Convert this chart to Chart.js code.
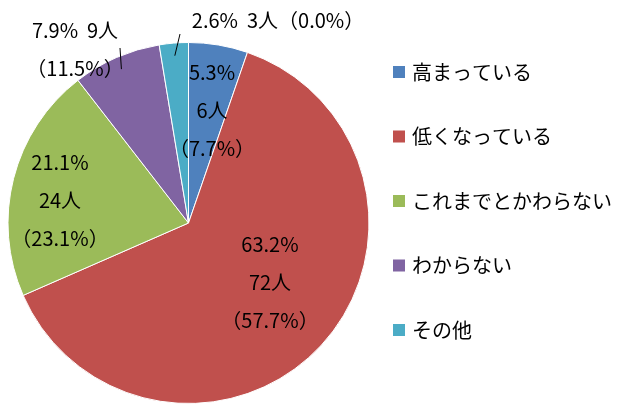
<!DOCTYPE html>
<html lang="ja">
<head>
<meta charset="UTF-8" />
<script src="https://cdn.jsdelivr.net/npm/chart.js"></script>
<style>
  body { margin: 0; background: #fff; }
  #wrap { width: 640px; height: 404px; }
</style>
</head>
<body>
<div id="wrap"><canvas id="pie"></canvas></div>
<script>
const categories = ['高まっている', '低くなっている', 'これまでとかわらない', 'わからない', 'その他'];
const percents = [5.3, 63.2, 21.1, 7.9, 2.6];
const counts = ['6人', '72人', '24人', '9人', '3人'];
const shares = ['（7.7%）', '（57.7%）', '（23.1%）', '（11.5%）', '（0.0%）'];
const colors = ['#4F81BD', '#C0504D', '#9BBB59', '#8064A2', '#4BACC6'];

const FONT = '20px "Noto Sans CJK JP", sans-serif';

// label placement per slice: lines of text, anchor point, whether a leader line is drawn
const labelLayout = [
  { lines: i => [percents[i] + '%', counts[i], shares[i]], x: 212, y: 72, align: 'center' },
  { lines: i => [percents[i] + '%', counts[i], shares[i]], x: 270, y: 244, align: 'center' },
  { lines: i => [percents[i] + '%', counts[i], shares[i]], x: 60, y: 162, align: 'center' },
  { lines: i => [percents[i] + '%  ' + counts[i], shares[i]], x: 75, y: 30, align: 'center', lead: [120, 48] },
  { lines: i => [percents[i] + '%  ' + counts[i] + shares[i]], x: 278, y: 20, align: 'center', lead: [180, 34] }
];

const labelPlugin = {
  id: 'labels',
  afterDraw(chart) {
    const ctx = chart.ctx;
    const arcs = chart.getDatasetMeta(0).data;
    ctx.save();
    ctx.font = FONT;
    ctx.fillStyle = '#000';
    ctx.textBaseline = 'middle';
    arcs.forEach((arc, i) => {
      const l = labelLayout[i];
      if (l.lead) {
        const mid = (arc.startAngle + arc.endAngle) / 2;
        const ex = arc.x + Math.cos(mid) * arc.outerRadius * 0.93;
        const ey = arc.y + Math.sin(mid) * arc.outerRadius * 0.93;
        ctx.strokeStyle = '#000';
        ctx.lineWidth = 1;
        ctx.beginPath();
        ctx.moveTo(l.lead[0], l.lead[1]);
        ctx.lineTo(ex, ey);
        ctx.stroke();
      }
      ctx.textAlign = l.align;
      l.lines(i).forEach((t, k) => ctx.fillText(t, l.x, l.y + k * 38));
    });
    // legend
    categories.forEach((c, i) => {
      const y = 72 + i * 64.5;
      ctx.fillStyle = colors[i];
      ctx.fillRect(393, y - 6, 12, 12);
      ctx.fillStyle = '#000';
      ctx.textAlign = 'left';
      ctx.fillText(c, 412, y);
    });
    ctx.restore();
  }
};

new Chart(document.getElementById('pie'), {
  type: 'pie',
  data: {
    labels: categories,
    datasets: [{
      data: percents,
      backgroundColor: colors,
      borderColor: '#fff',
      borderWidth: 1
    }]
  },
  options: {
    responsive: true,
    maintainAspectRatio: false,
    animation: false,
    layout: { padding: { left: 5, right: 268, top: 42, bottom: 0 } },
    plugins: { legend: { display: false }, tooltip: { enabled: false } }
  },
  plugins: [labelPlugin]
});
</script>
</body>
</html>
